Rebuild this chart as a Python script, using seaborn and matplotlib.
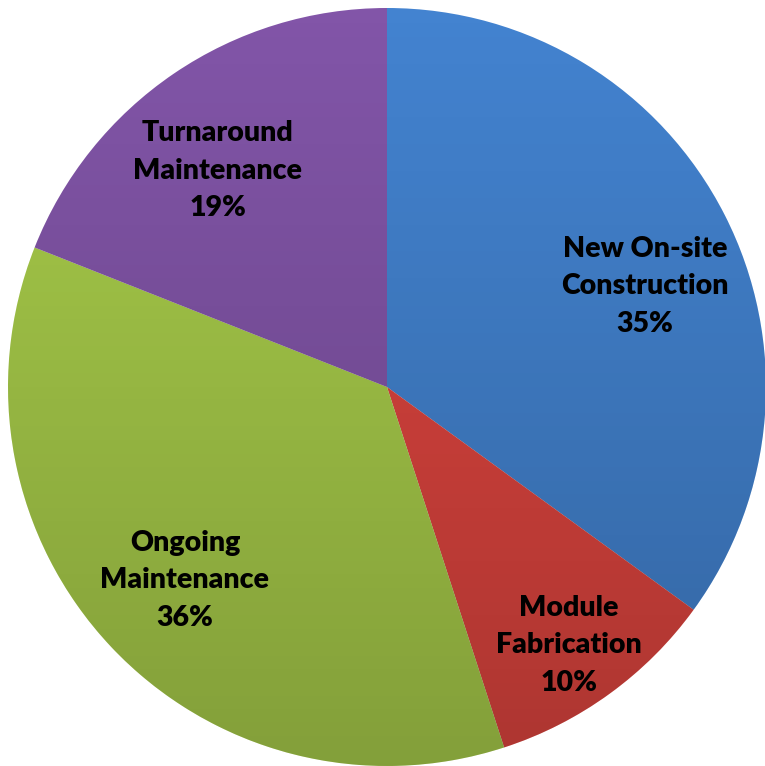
import numpy as np
import matplotlib
matplotlib.use("Agg")
import matplotlib.pyplot as plt
import seaborn as sns
from matplotlib.patches import Circle

# slice data, clockwise from 12 o'clock
categories = ["New On-site\nConstruction", "Module\nFabrication", "Ongoing\nMaintenance", "Turnaround\nMaintenance"]
shares = [35, 10, 36, 19]
colors = ["#4383d0", "#de453f", "#a8cc4a", "#8255a8"]

sns.set_style("white")
plt.rcParams['font.family'] = ['Lato', 'DejaVu Sans']

fig = plt.figure(figsize=(7.65, 7.66), dpi=100)
ax = fig.add_axes([0, 0, 1, 1])

wedges, _ = ax.pie(shares, colors=colors, startangle=90, counterclock=False,
                   radius=1.0, center=(0, 0), wedgeprops=dict(linewidth=0))

# darken towards the bottom, like the office chart style
rgba = np.zeros((256, 1, 4))
rgba[:, 0, 3] = np.linspace(0.0, 0.22, 256)
shade = ax.imshow(rgba, extent=(-1, 1, -1, 1), origin="upper", aspect="auto", zorder=2)
shade.set_clip_path(Circle((0, 0), 1.0, transform=ax.transData))

# label positions (data units)
label_pos = [(0.681, 0.266), (0.480, -0.682), (-0.533, -0.510), (-0.446, 0.571)]
for (x, y), name, v in zip(label_pos, categories, shares):
    ax.text(x, y, f"{name}\n{v}%", ha="center", va="center", fontsize=20.5,
            fontweight="heavy", color="black", linespacing=1.55, zorder=3)

ax.set_xlim(-387 / 379, (765 - 387) / 379)
ax.set_ylim(-(766 - 387) / 379, 387 / 379)
ax.set_aspect("auto")
ax.axis("off")

fig.savefig("out.png", dpi=100)
